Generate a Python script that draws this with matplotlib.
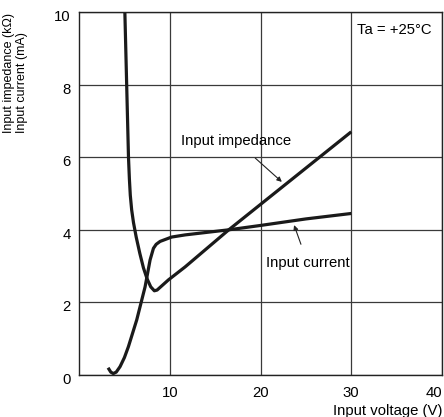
import matplotlib
matplotlib.use("Agg")
from matplotlib import pyplot as plt
from matplotlib.transforms import ScaledTranslation

plt.rcParams['font.family'] = ['Liberation Sans', 'DejaVu Sans']
plt.rcParams['font.size'] = 10.7

# Input impedance (kOhm) vs input voltage (V)
imp_v = [5.05, 5.15, 5.25, 5.35, 5.45, 5.55, 5.65, 5.8, 6.0, 6.3, 6.7, 7.1, 7.5, 7.9, 8.3, 8.6, 9.85, 11.7, 16.5, 20, 25, 30]
imp_z = [10.0, 9.0, 8.0, 7.0, 6.0, 5.4, 4.95, 4.55, 4.2, 3.8, 3.35, 2.95, 2.65, 2.43, 2.32, 2.34, 2.62, 2.98, 4.0, 4.7, 5.7, 6.7]

# Input current (mA) vs input voltage (V)
cur_v = [3.2, 3.5, 3.78, 4.1, 4.52, 5.0, 5.44, 6.36, 7.28, 7.83, 8.2, 8.5, 8.93, 10.2, 11.7, 16.5, 20, 25, 30]
cur_i = [0.2, 0.08, 0.04, 0.08, 0.23, 0.48, 0.78, 1.52, 2.43, 3.17, 3.49, 3.6, 3.68, 3.8, 3.86, 4.0, 4.12, 4.3, 4.45]

x_ticks = [10, 20, 30, 40]
y_ticks = [0, 2, 4, 6, 8, 10]

fig = plt.figure(figsize=(4.44, 4.17), dpi=100)
ax = fig.add_axes([0.178, 0.1007, 0.8175, 0.8705])

ax.set_xlim(0, 40)
ax.set_ylim(0, 10)
ax.set_xticks(x_ticks)
ax.set_yticks(y_ticks)
ax.tick_params(length=0, labelsize=10.7)
ax.tick_params(axis='x', pad=8)
ax.tick_params(axis='y', pad=6)
ax.grid(True, color='#3a3a3a', linewidth=0.9)
for s in ax.spines.values():
    s.set_linewidth(1.0)
    s.set_color('#222222')

# y labels sit a little below their grid lines in the original
shift = ScaledTranslation(0, -0.035, fig.dpi_scale_trans)
for lab in ax.get_yticklabels():
    lab.set_transform(lab.get_transform() + shift)

ax.plot(imp_v, imp_z, color='#1a1a1a', linewidth=2.3, solid_capstyle='butt')
ax.plot(cur_v, cur_i, color='#1a1a1a', linewidth=2.3, solid_capstyle='butt')

ax.annotate('Input impedance', xy=(22.35, 5.32), xytext=(17.3, 6.45),
            ha='center', va='center',
            arrowprops=dict(arrowstyle='-|>', color='#222222', lw=0.8,
                            shrinkA=8, shrinkB=0, mutation_scale=7))
ax.annotate('Input current', xy=(23.7, 4.13), xytext=(25.2, 3.08),
            ha='center', va='center',
            arrowprops=dict(arrowstyle='-|>', color='#222222', lw=0.8,
                            shrinkA=7, shrinkB=0, mutation_scale=7))
ax.text(34.7, 9.5, 'Ta = +25°C', ha='center', va='center')

ax.text(-0.174, 0.667, 'Input impedance (kΩ)\nInput current (mA)', rotation=90,
        transform=ax.transAxes, ha='center', va='bottom', multialignment='left',
        fontsize=9.0, linespacing=1.1)
ax.text(1.0, -0.098, 'Input voltage (V)', transform=ax.transAxes,
        ha='right', va='center')

xl = ax.get_xticklabels()
xl[-1].set_horizontalalignment('right')
xl[-1].set_x(40.8)

fig.savefig('out.png', dpi=100)
